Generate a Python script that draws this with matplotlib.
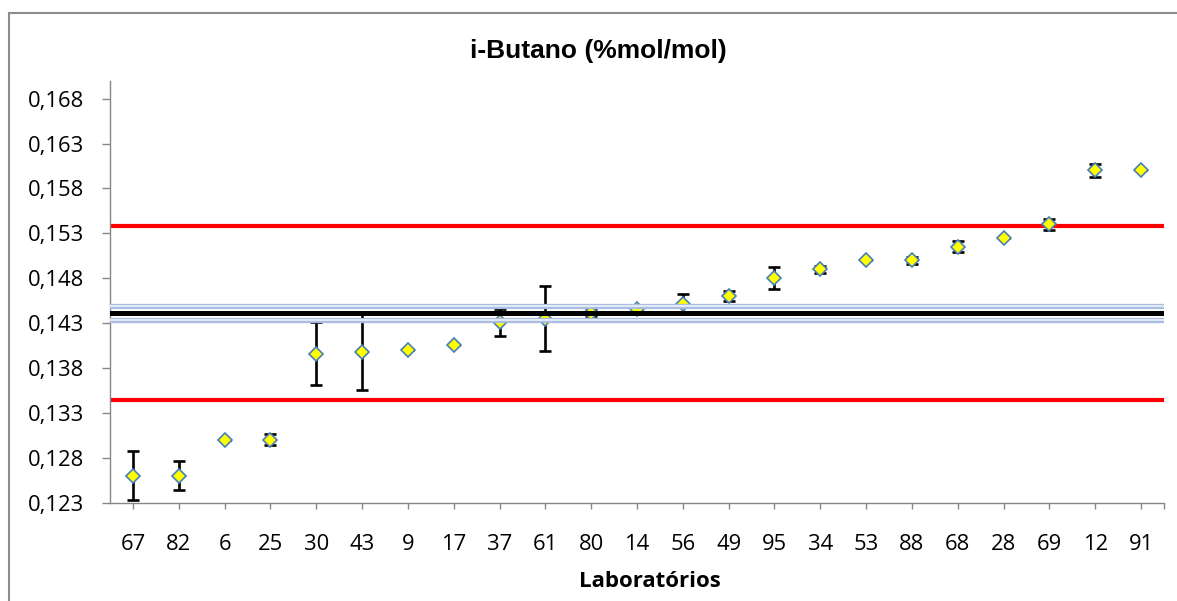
import numpy as np
import matplotlib
matplotlib.use("Agg")
import matplotlib.pyplot as plt
from matplotlib.lines import Line2D

# laboratory codes, sorted by reported result
labs = ["67", "82", "6", "25", "30", "43", "9", "17", "37", "61", "80", "14",
        "56", "49", "95", "34", "53", "88", "68", "28", "69", "12", "91"]
results = [0.1260, 0.1260, 0.1300, 0.1300, 0.1396, 0.1398, 0.1400, 0.1405,
           0.1431, 0.1435, 0.1441, 0.1446, 0.1451, 0.1460, 0.1480, 0.1490,
           0.1500, 0.1500, 0.1515, 0.1525, 0.1540, 0.1600, 0.1600]
uncert = [0.0027, 0.0016, 0.0, 0.0006, 0.0035, 0.0043, 0.0, 0.0,
          0.0015, 0.0036, 0.0003, 0.0, 0.0011, 0.0006, 0.0012, 0.0004,
          0.0, 0.0004, 0.0006, 0.0, 0.0006, 0.0007, 0.0]

# assigned value, its uncertainty band and the acceptance limits
assigned = 0.1441
band_hi = 0.1449
band_lo = 0.1433
limit_hi = 0.1538
limit_lo = 0.1344

yticks = np.arange(0.123, 0.1681, 0.005)

fig = plt.figure(figsize=(11.77, 6.01), dpi=100)
ax = fig.add_axes([0.09346, 0.16389, 0.89549, 0.70183])

x = np.arange(len(labs))

ax.axhline(limit_hi, color="#ff0000", lw=3.0, zorder=1)
ax.axhline(limit_lo, color="#ff0000", lw=3.0, zorder=1)

ax.errorbar(x, results, yerr=uncert, fmt="none", ecolor="black",
            elinewidth=1.9, capsize=4.3, capthick=1.9, zorder=2)
ax.plot(x, results, ls="none", marker="D", ms=7.2, mfc="#ffff00",
        mec="#4a7ebb", mew=1.2, zorder=2.5)

for yb in (band_hi, band_lo):
    ax.axhline(yb, color="#a9bde0", lw=3.8, zorder=3)
    ax.axhline(yb, color="#eef2fa", lw=1.2, zorder=3.1)
ax.axhline(assigned, color="black", lw=3.6, zorder=3.2)

ax.set_xlim(-0.5, len(labs) - 0.5)
ax.set_ylim(0.123, 0.170)
ax.set_xticks(x)
ax.set_xticks([len(labs) - 0.5], minor=True)
ax.set_xticklabels(labs)
ax.set_yticks(yticks)
ax.set_yticklabels([f"{v:.3f}".replace(".", ",") for v in yticks])

for side in ("top", "right"):
    ax.spines[side].set_visible(False)
for side in ("left", "bottom"):
    ax.spines[side].set_color("#868686")
    ax.spines[side].set_linewidth(1.0)

ax.tick_params(axis="x", which="both", length=4.5, width=1.0, color="#868686",
               pad=18.5, labelsize=15.8)
ax.tick_params(axis="y", length=5.5, width=1.0, color="#868686",
               pad=13.2, labelsize=15.8)
for lab in ax.get_xticklabels() + ax.get_yticklabels():
    lab.set_fontfamily("Open Sans")

fig.text(0.508, 1 - 58.3 / 601, "i-Butano (%mol/mol)", ha="center",
         va="baseline", fontsize=19, fontweight="bold",
         family="Liberation Sans")
fig.text(650 / 1177, 1 - 586.7 / 601, "Laboratórios", ha="center",
         va="baseline", fontsize=16, fontweight="bold", family="Open Sans")

# chart frame (left and top edges)
fx = 9 / 1177
fy = 1 - 12.7 / 601
fig.add_artist(Line2D([fx, fx], [0, fy], transform=fig.transFigure,
                      color="#8c8c8c", lw=1.5))
fig.add_artist(Line2D([fx, 1], [fy, fy], transform=fig.transFigure,
                      color="#8c8c8c", lw=1.5))

fig.savefig("out.png", dpi=100)
